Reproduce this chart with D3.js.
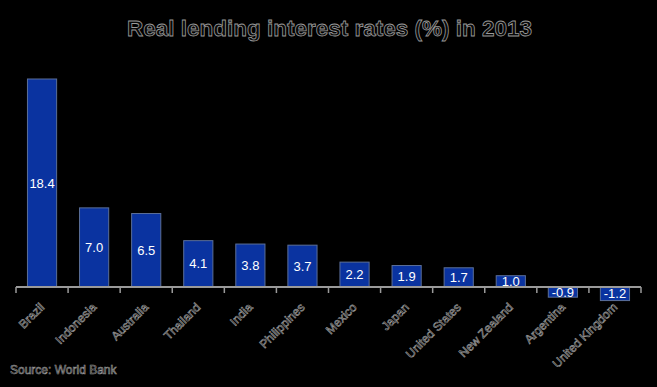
<!DOCTYPE html>
<html>
<head>
<meta charset="utf-8">
<script src="https://cdn.jsdelivr.net/npm/d3@7"></script>
<style>
  body { margin: 0; background: #000; }
  svg { display: block; }
</style>
</head>
<body>
<script>
var width = 657,
    height = 387;

var countries = ["Brazil", "Indonesia", "Australia", "Thailand", "India", "Philippines",
    "Mexico", "Japan", "United States", "New Zealand", "Argentina", "United Kingdom"];
var rates = [18.4, 7.0, 6.5, 4.1, 3.8, 3.7, 2.2, 1.9, 1.7, 1.0, -0.9, -1.2];
var valueLabels = ["18.4", "7.0", "6.5", "4.1", "3.8", "3.7", "2.2", "1.9", "1.7", "1.0", "-0.9", "-1.2"];

var margin = { top: 79, right: 16, bottom: 100, left: 16 };

var svg = d3.select("body").append("svg")
    .attr("width", width)
    .attr("height", height);

var x = d3.scaleBand()
    .domain(countries)
    .range([margin.left, width - margin.right])
    .paddingInner(0.44)
    .paddingOuter(0.22);

var y = d3.scaleLinear()
    .domain([0, 18.4])
    .range([287, margin.top]);

// outlined dark text, like the original export
function darkText(sel, size, sw) {
    sel.style("font-family", "Liberation Sans, Arial, sans-serif")
        .style("font-size", size + "px")
        .style("fill", "#080808")
        .style("stroke", "#9a9a9a")
        .style("stroke-width", sw);
}

// title
svg.append("text")
    .attr("x", width / 2 + 1)
    .attr("y", 36)
    .attr("text-anchor", "middle")
    .style("font-weight", "bold")
    .call(darkText, 22.5, 0.8)
    .text("Real lending interest rates (%) in 2013");

// bars
svg.selectAll(".bar")
    .data(countries)
    .enter().append("rect")
    .attr("class", "bar")
    .attr("x", function (d) { return x(d); })
    .attr("width", x.bandwidth())
    .attr("y", function (d, i) { return y(Math.max(0, rates[i])); })
    .attr("height", function (d, i) { return Math.abs(y(rates[i]) - y(0)); })
    .style("fill", "#0a33a0")
    .style("stroke", "#5b6f99")
    .style("stroke-width", 1);

// value labels
svg.selectAll(".val")
    .data(countries)
    .enter().append("text")
    .attr("class", "val")
    .attr("x", function (d) { return x(d) + x.bandwidth() / 2; })
    .attr("y", function (d, i) { return (y(rates[i]) + y(0)) / 2; })
    .attr("dy", "0.35em")
    .attr("text-anchor", "middle")
    .style("font-family", "Liberation Sans, Arial, sans-serif")
    .style("font-size", "13px")
    .style("fill", "#fff")
    .text(function (d, i) { return valueLabels[i]; });

// axis
var step = x.step();
var tickPos = d3.range(countries.length + 1).map(function (i) {
    return margin.left + i * step;
});

svg.append("line")
    .attr("x1", margin.left)
    .attr("x2", width - margin.right)
    .attr("y1", y(0))
    .attr("y2", y(0))
    .style("stroke", "#9a9a9a")
    .style("stroke-width", 2);

svg.selectAll(".tick")
    .data(tickPos)
    .enter().append("line")
    .attr("class", "tick")
    .attr("x1", function (d) { return d; })
    .attr("x2", function (d) { return d; })
    .attr("y1", y(0))
    .attr("y2", y(0) + 6)
    .style("stroke", "#9a9a9a")
    .style("stroke-width", 1.5);

// category labels
svg.selectAll(".cat")
    .data(countries)
    .enter().append("text")
    .attr("class", "cat")
    .attr("transform", function (d) {
        return "translate(" + (x(d) + x.bandwidth() / 2 + 3) + "," + (y(0) + 21) + ") rotate(-45)";
    })
    .attr("text-anchor", "end")
    .call(darkText, 12, 0.6)
    .text(function (d) { return d; });

// source
svg.append("text")
    .attr("x", 10)
    .attr("y", 374)
    .call(darkText, 12, 0.6)
    .text("Source: World Bank");
</script>
</body>
</html>
